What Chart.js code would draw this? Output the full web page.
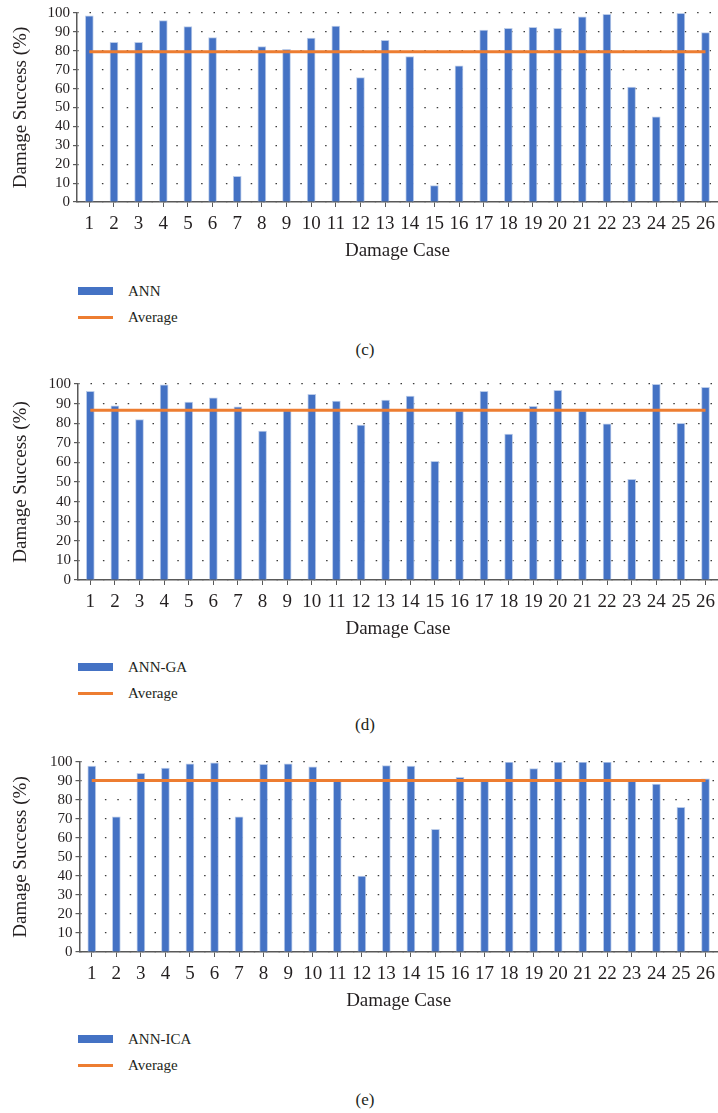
<!DOCTYPE html>
<html>
<head>
<meta charset="utf-8">
<script src="https://cdn.jsdelivr.net/npm/chart.js@4"></script>
<style>
  body { margin: 0; width: 718px; height: 1113px; overflow: hidden; background: #fff; position: relative;
         font-family: 'Liberation Serif', 'DejaVu Serif', serif; color: #231f20; }
  .panel { position: absolute; left: 0; width: 721px; }
  .legend { position: absolute; left: 78px; font-size: 15px; }
  .legend div { position: relative; height: 26px; line-height: 26px; padding-left: 50px; }
  .legend .bar { position: absolute; left: 0; top: 9px; width: 35px; height: 8px; background: #4472C4; }
  .legend .line { position: absolute; left: 0; top: 12px; width: 35px; height: 3px; background: #ED7D31; }
  .caption { position: absolute; left: 0; width: 730px; text-align: center; font-size: 17px; }
</style>
</head>
<body>

<div class="panel" style="top:0px"><canvas id="chartC" width="721" height="262"></canvas></div>
<div class="legend" style="top:278px">
  <div><span class="bar"></span>ANN</div>
  <div><span class="line"></span>Average</div>
</div>
<div class="caption" style="top:340px">(c)</div>

<div class="panel" style="top:371px"><canvas id="chartD" width="721" height="269"></canvas></div>
<div class="legend" style="top:654px">
  <div><span class="bar"></span>ANN-GA</div>
  <div><span class="line"></span>Average</div>
</div>
<div class="caption" style="top:715px">(d)</div>

<div class="panel" style="top:749px"><canvas id="chartE" width="721" height="263"></canvas></div>
<div class="legend" style="top:1026px">
  <div><span class="bar"></span>ANN-ICA</div>
  <div><span class="line"></span>Average</div>
</div>
<div class="caption" style="top:1090px">(e)</div>

<script>
// Damage cases 1..26
const cases = ['1','2','3','4','5','6','7','8','9','10','11','12','13','14','15','16','17','18','19','20','21','22','23','24','25','26'];

// (c) ANN
const annValues = [98.5, 84.5, 84.5, 96, 92.8, 87, 13.6, 82.2, 80.8, 86.7, 93.1, 65.8, 85.6, 76.9, 8.7, 72,
  91, 91.9, 92.4, 91.9, 98, 99.3, 60.8, 45.1, 99.8, 89.6];
const annAverage = 79.5;

// (d) ANN-GA
const annGaValues = [96.3, 88.9, 81.8, 99.6, 90.8, 92.9, 88.4, 76, 86.5, 94.7, 91.3, 79.1, 91.8, 93.9, 60.5, 86.3,
  96.3, 74.5, 88.6, 96.8, 86.3, 79.7, 51.4, 99.8, 79.9, 98.3];
const annGaAverage = 86.6;

// (e) ANN-ICA
const annIcaValues = [97.9, 71.1, 94, 96.8, 99.1, 99.6, 71.1, 98.8, 99, 97.4, 89.8, 40, 98.1, 97.9, 64.6, 91.9,
  89.8, 99.9, 96.5, 99.9, 99.9, 99.9, 89.8, 88.4, 76.2, 91.2];
const annIcaAverage = 90.2;

const yTicks = [0, 10, 20, 30, 40, 50, 60, 70, 80, 90, 100];

const BAR_COLOR = '#4472C4';
const AVG_COLOR = '#ED7D31';
const AXIS_COLOR = '#595959';
const TEXT_COLOR = '#231f20';
const SERIF = "'Liberation Serif', 'DejaVu Serif', serif";

function makeChart(id, label, values, average, leftWidth) {
  const ctx = document.getElementById(id).getContext('2d');
  return new Chart(ctx, {
    type: 'bar',
    data: {
      labels: cases,
      datasets: [
        {
          type: 'line',
          label: 'Average',
          data: cases.map(() => average),
          borderColor: AVG_COLOR,
          borderWidth: 3,
          pointRadius: 0,
          order: 0
        },
        {
          label: label,
          data: values,
          backgroundColor: BAR_COLOR,
          borderColor: 'rgba(180, 199, 231, 0.9)',
          borderWidth: 1,
          barThickness: 8,
          order: 1
        }
      ]
    },
    options: {
      responsive: false,
      animation: false,
      layout: { padding: { top: 13, left: 0, right: 0, bottom: 0 } },
      plugins: { legend: { display: false }, tooltip: { enabled: false } },
      scales: {
        x: {
          offset: true,
          afterFit: (axis) => { axis.height = 60; },
          grid: { offset: false, drawOnChartArea: false, drawTicks: true, tickLength: 5, tickColor: AXIS_COLOR },
          border: { color: AXIS_COLOR, width: 1.5 },
          ticks: { color: TEXT_COLOR, font: { family: SERIF, size: 19 }, padding: 6, maxRotation: 0, autoSkip: false },
          title: { display: true, text: 'Damage Case', color: TEXT_COLOR, font: { family: SERIF, size: 19 }, padding: { top: 0, bottom: 0 } }
        },
        y: {
          min: 0,
          max: 100,
          afterFit: (axis) => { axis.width = leftWidth; },
          afterBuildTicks: (axis) => { axis.ticks = yTicks.map(v => ({ value: v })); },
          grid: { color: '#3a3a3a', lineWidth: 1.2, tickLength: 4, tickColor: AXIS_COLOR },
          border: { color: AXIS_COLOR, width: 1.5, dash: [1.5, 10.9], dashOffset: -12 },
          ticks: { color: TEXT_COLOR, font: { family: SERIF, size: 15 }, padding: 3, autoSkip: false },
          title: { display: true, text: 'Damage Success (%)', color: TEXT_COLOR, font: { family: SERIF, size: 19 }, padding: { top: 10, bottom: 0 } }
        }
      }
    }
  });
}

makeChart('chartC', 'ANN', annValues, annAverage, 77);
makeChart('chartD', 'ANN-GA', annGaValues, annGaAverage, 78);
makeChart('chartE', 'ANN-ICA', annIcaValues, annIcaAverage, 79.5);
</script>
</body>
</html>
